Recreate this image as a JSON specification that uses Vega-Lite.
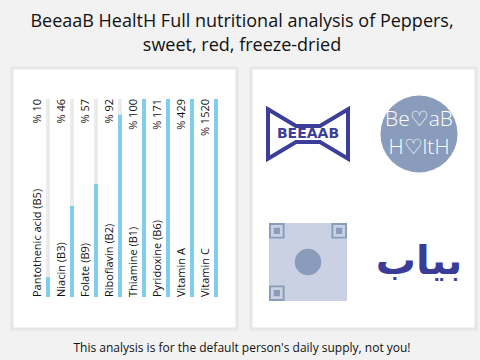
{
  "$schema": "https://vega.github.io/schema/vega-lite/v6.json",
  "background": "#f2f2f2",
  "padding": {"left": 10, "right": 10, "top": 0, "bottom": 3},
  "config": {"view": {"stroke": null}, "font": "Open Sans"},
  "spacing": 4,
  "vconcat": [
    {
      "width": 460, "height": 62,
      "data": {"values": [{"title": ["BeeaaB HealtH Full nutritional analysis of Peppers,", "sweet, red, freeze-dried"]}]},
      "mark": {"type": "text", "fontSize": 18, "lineHeight": 24, "font": "Open Sans", "color": "#111111", "baseline": "middle"},
      "encoding": {"text": {"field": "title"}, "y": {"value": 22}}
    },
    {
      "spacing": 10,
      "hconcat": [
        {
          "width": 225, "height": 261,
          "view": {"fill": "white", "stroke": "#e6e6e6", "strokeWidth": 3},
          "data": {"values": [
            {"nutrient": "Pantothenic acid (B5)", "pct": 10, "label": "% 10"},
            {"nutrient": "Niacin (B3)", "pct": 46, "label": "% 46"},
            {"nutrient": "Folate (B9)", "pct": 57, "label": "% 57"},
            {"nutrient": "Riboflavin (B2)", "pct": 92, "label": "% 92"},
            {"nutrient": "Thiamine (B1)", "pct": 100, "label": "% 100"},
            {"nutrient": "Pyridoxine (B6)", "pct": 171, "label": "% 171"},
            {"nutrient": "Vitamin A", "pct": 429, "label": "% 429"},
            {"nutrient": "Vitamin C", "pct": 1520, "label": "% 1520"}
          ]},
          "encoding": {
            "x": {"field": "nutrient", "type": "nominal", "sort": null, "axis": null,
                  "scale": {"range": [24, 216], "paddingInner": 0, "paddingOuter": 0}}
          },
          "layer": [
            {"mark": {"type": "bar", "width": 4, "color": "#ebebeb"},
             "encoding": {
               "y": {"datum": 100, "type": "quantitative", "axis": null,
                     "scale": {"domain": [0, 100], "range": [229, 31], "clamp": true}},
               "y2": {"datum": 0}}},
            {"mark": {"type": "bar", "width": 4, "color": "#80cdec"},
             "encoding": {"y": {"field": "pct", "type": "quantitative"}, "y2": {"datum": 0}}},
            {"mark": {"type": "text", "angle": 270, "align": "left", "baseline": "middle", "fontSize": 11, "color": "#111111"},
             "encoding": {
               "x": {"field": "nutrient", "type": "nominal", "sort": null, "bandPosition": 0.08},
               "y": {"datum": 0, "type": "quantitative"},
               "text": {"field": "nutrient"}}},
            {"mark": {"type": "text", "angle": 270, "align": "right", "baseline": "middle", "fontSize": 11, "color": "#111111"},
             "encoding": {
               "x": {"field": "nutrient", "type": "nominal", "sort": null, "bandPosition": 0.08},
               "y": {"datum": 100, "type": "quantitative"},
               "text": {"field": "label"}}}
          ]
        },
        {
          "width": 225, "height": 261,
          "view": {"fill": "white", "stroke": "#e6e6e6", "strokeWidth": 3},
          "data": {"values": [
            {"logo": "bowtie", "col": "L", "row": "T"},
            {"logo": "circle", "col": "R", "row": "T"},
            {"logo": "qr", "col": "L", "row": "B"},
            {"logo": "arabic", "col": "R", "row": "B"}
          ]},
          "encoding": {
            "x": {"field": "col", "type": "nominal", "axis": null, "scale": {"type": "point", "padding": 0, "domain": ["L", "R"], "range": [57, 168]}},
            "y": {"field": "row", "type": "nominal", "axis": null, "scale": {"type": "point", "padding": 0, "domain": ["T", "B"], "range": [66, 194]}}
          },
          "layer": [
            {"transform": [{"filter": "datum.logo == 'bowtie'"}],
             "mark": {"type": "point", "shape": "M-1,-0.62L-0.3,-0.2L0.3,-0.2L1,-0.62L1,0.62L0.3,0.2L-0.3,0.2L-1,0.62Z",
                      "size": 6400, "filled": true, "fill": "white", "stroke": "#3c3f99", "strokeWidth": 4, "opacity": 1}},
            {"transform": [{"filter": "datum.logo == 'bowtie'"}],
             "mark": {"type": "text", "text": "BEEAAB", "fontSize": 14, "fontWeight": "bold", "font": "DejaVu Sans", "color": "#3c3f99", "baseline": "middle"}},
            {"transform": [{"filter": "datum.logo == 'circle'"}],
             "mark": {"type": "point", "shape": "circle", "size": 5945, "filled": true, "color": "#8a9cbb", "opacity": 1}},
            {"transform": [{"filter": "datum.logo == 'circle'"}],
             "mark": {"type": "text", "text": ["Be♡aB", "H♡ltH"], "fontSize": 21, "lineHeight": 28, "fontWeight": 300, "color": "white", "baseline": "middle", "dy": -14}},
            {"transform": [{"filter": "datum.logo == 'qr'"}],
             "mark": {"type": "point", "shape": "square", "size": 6084, "filled": true, "color": "#c9d1e2", "opacity": 1}},
            {"transform": [{"filter": "datum.logo == 'qr'"}],
             "mark": {"type": "point",
                      "shape": "M-1,-1H-0.6V-0.6H-1Z M-0.95,-0.95V-0.65H-0.65V-0.95Z M-0.88,-0.88H-0.72V-0.72H-0.88Z M0.6,-1H1V-0.6H0.6Z M0.65,-0.95V-0.65H0.95V-0.95Z M0.72,-0.88H0.88V-0.72H0.72Z M-1,0.6H-0.6V1H-1Z M-0.95,0.65V0.95H-0.65V0.65Z M-0.88,0.72H-0.72V0.88H-0.88Z",
                      "size": 6084, "filled": true, "color": "#8a9cbb", "opacity": 1}},
            {"transform": [{"filter": "datum.logo == 'qr'"}],
             "mark": {"type": "point", "shape": "circle", "size": 700, "filled": true, "color": "#8a9cbb", "opacity": 1}},
            {"transform": [{"filter": "datum.logo == 'arabic'"}],
             "mark": {"type": "text", "text": "بیاب", "fontSize": 40, "fontWeight": "bold", "font": "DejaVu Sans", "color": "#3a3d98", "baseline": "middle"}}
          ]
        }
      ]
    },
    {
      "width": 460, "height": 26,
      "data": {"values": [{"note": "This analysis is for the default person's daily supply, not you!"}]},
      "mark": {"type": "text", "fontSize": 12, "font": "Open Sans", "color": "#111111", "baseline": "middle"},
      "encoding": {"text": {"field": "note"}}
    }
  ]
}
